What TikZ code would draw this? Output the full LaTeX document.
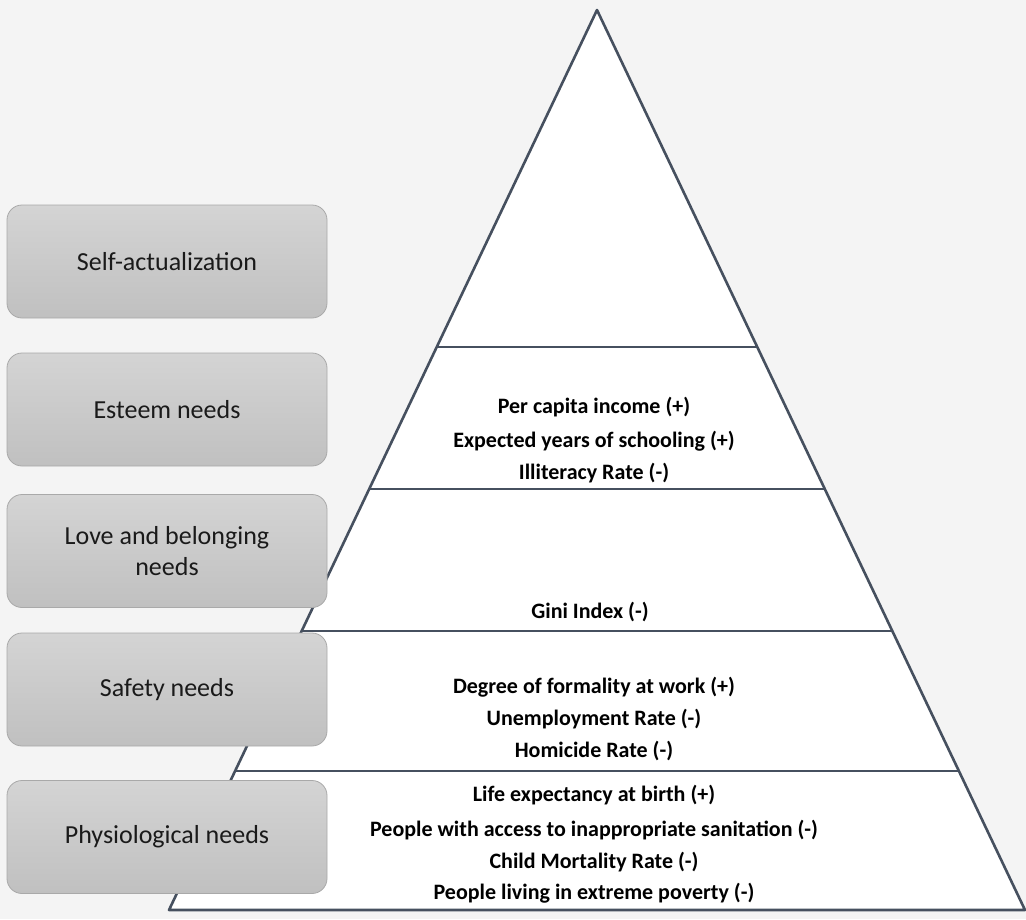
\documentclass[tikz,border=0pt]{standalone}
\usepackage{fontspec}
\setmainfont{Carlito}
\usetikzlibrary{calc}
\definecolor{bgc}{HTML}{F4F4F4}
\definecolor{pyr}{HTML}{46505F}
\definecolor{boxtop}{HTML}{D4D4D4}
\definecolor{boxbot}{HTML}{C0C0C0}
\definecolor{boxline}{HTML}{A9A9A9}
\definecolor{txt}{HTML}{1A1A1A}
\tikzset{
  needbox/.style={rounded corners=15pt, minimum width=320pt, minimum height=113pt,
    top color=boxtop, bottom color=boxbot, draw=boxline, line width=0.8pt,
    font=\fontsize{26}{31}\selectfont, text=txt, align=center, inner sep=0pt},
  indic/.style={font=\fontsize{22}{26}\selectfont\bfseries, text=black, inner sep=0pt,
    text height=15pt, text depth=5pt},
  pyrline/.style={draw=pyr, line width=2.6pt, line join=round}
}
\begin{document}
\begin{tikzpicture}[x=1pt,y=-1pt]
\fill[bgc] (0,0) rectangle (1026,919);
\useasboundingbox (0,0) rectangle (1026,919);
\coordinate (A) at (597,10);
\coordinate (BL) at (169,910);
\coordinate (BR) at (1025,910);
\fill[white] (A) -- (BL) -- (BR) -- cycle;
\foreach \yy/\nm in {347/a,489/b,631/c,771/d}{
  \coordinate (L\nm) at ($(A)!{(\yy-10)/900}!(BL)$);
  \coordinate (R\nm) at ($(A)!{(\yy-10)/900}!(BR)$);
  \draw[pyrline] (L\nm) -- (R\nm);
}
\draw[pyrline] (A) -- (BL) -- (BR) -- cycle;

\node[needbox] (self) at (167,261.5) {Self-actualization};
\node[needbox] (esteem) at (167,409.5) {Esteem needs};
\node[needbox] (love) at (167,551) {Love and belonging\\needs};
\node[needbox] (safety) at (167,689.5) {Safety needs};
\node[needbox] (phys) at (167,837) {Physiological needs};

\node[indic] (e1) at (594,408) {Per capita income (+)};
\node[indic] (e2) at (594,442) {Expected years of schooling (+)};
\node[indic] (e3) at (594,474) {Illiteracy Rate (-)};
\node[indic] (l1) at (590,613) {Gini Index (-)};
\node[indic] (s1) at (594,688) {Degree of formality at work (+)};
\node[indic] (s2) at (594,720) {Unemployment Rate (-)};
\node[indic] (s3) at (594,752) {Homicide Rate (-)};
\node[indic] (p1) at (594,796) {Life expectancy at birth (+)};
\node[indic] (p2) at (594,831) {People with access to inappropriate sanitation (-)};
\node[indic] (p3) at (594,863) {Child Mortality Rate (-)};
\node[indic] (p4) at (594,894) {People living in extreme poverty (-)};
\end{tikzpicture}
\end{document}
